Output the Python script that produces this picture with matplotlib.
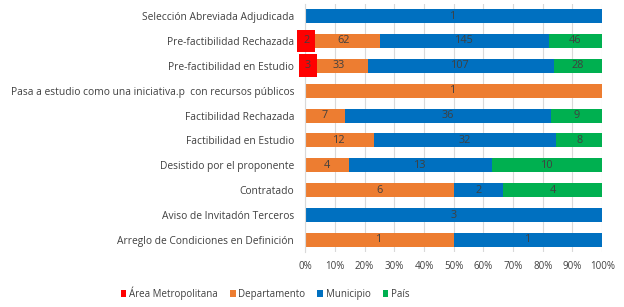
"""Stacked 100% bar chart of project states by entity."""

import matplotlib.pyplot as plt
import numpy as np

estados = [
    "Selección Abreviada Adjudicada",
    "Pre-factibilidad Rechazada",
    "Pre-factibilidad en Estudio",
    "Pasa a estudio como una iniciativa.p  con recursos públicos",
    "Factibilidad Rechazada",
    "Factibilidad en Estudio",
    "Desistido por el proponente",
    "Contratado",
    "Aviso de Invitadón Terceros",
    "Arreglo de Condiciones en Definición",
]
area_metropolitana = [0, 2, 3, 0, 0, 0, 0, 0, 0, 0]
departamento = [0, 62, 33, 1, 7, 12, 4, 6, 0, 1]
municipio = [1, 145, 107, 0, 36, 32, 13, 2, 3, 1]
pais = [0, 46, 28, 0, 9, 8, 10, 4, 0, 0]

series = [
    ("Área Metropolitana", area_metropolitana, "#ff0000"),
    ("Departamento", departamento, "#ed7d31"),
    ("Municipio", municipio, "#0070c0"),
    ("País", pais, "#00b050"),
]

plt.rcParams["font.family"] = ["Open Sans", "DejaVu Sans"]

fig = plt.figure(figsize=(6.24, 3.07), dpi=100)
ax = fig.add_axes([0.489, 0.178, 0.476, 0.81])

totales = np.sum([s[1] for s in series], axis=0).astype(float)
y = np.arange(len(estados))
izq = np.zeros(len(estados))
texto = "#404040"

for nombre, valores, color in series:
    frac = np.array(valores) / totales
    ax.barh(y, frac, left=izq, height=0.56, color=color, label=nombre)
    for i, v in enumerate(valores):
        if v == 0:
            continue
        cx = izq[i] + frac[i] / 2
        if nombre == "Área Metropolitana":
            # etiqueta con fondo rojo, como en el original
            ax.text(cx, y[i], str(v), ha="center", va="center", fontsize=7.8,
                    color=texto, bbox=dict(boxstyle="square,pad=0.55",
                                           fc=color, ec="none"))
        else:
            ax.text(cx, y[i], str(v), ha="center", va="center", fontsize=7.8,
                    color=texto)
    izq += frac

ax.set_xlim(0, 1)
ax.set_ylim(len(estados) - 0.5, -0.5)
ax.set_yticks(y, estados, fontsize=7.4, color=texto)
ax.set_xticks(np.arange(0, 1.01, 0.1),
              [f"{int(round(t * 100))}%" for t in np.arange(0, 1.01, 0.1)],
              fontsize=7, color=texto)
ax.tick_params(axis="y", length=0, pad=8)
ax.tick_params(axis="x", length=0, pad=6)
ax.grid(axis="x", color="#d9d9d9", linewidth=0.8)
ax.set_axisbelow(True)
for lado in ["top", "right", "bottom"]:
    ax.spines[lado].set_visible(False)
ax.spines["left"].set_color("#d9d9d9")

fig.legend(loc="center", bbox_to_anchor=(0.425, 0.045), ncol=4, frameon=False,
           fontsize=7, handlelength=0.6, handleheight=0.6, handletextpad=0.3,
           columnspacing=1.2, labelcolor=texto)

fig.savefig("out.png", dpi=100)
